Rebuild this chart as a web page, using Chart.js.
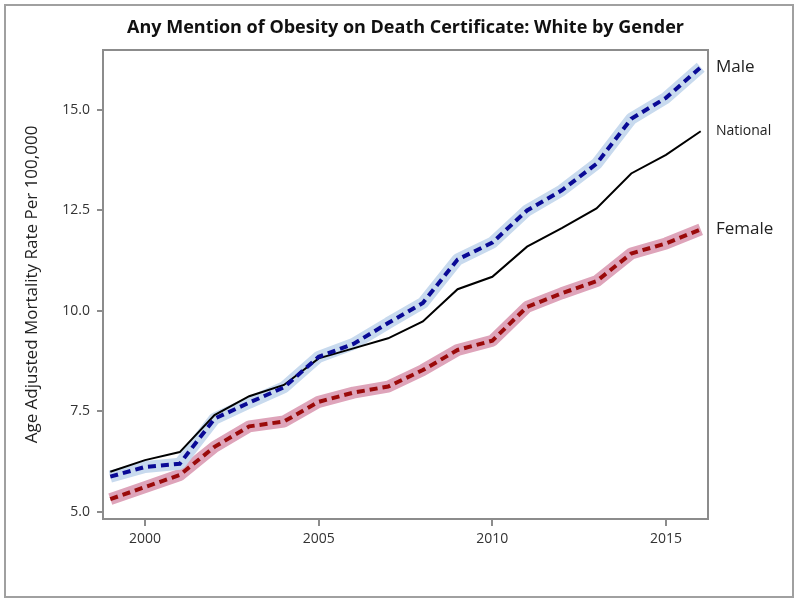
<!DOCTYPE html>
<html>
<head>
<meta charset="utf-8">
<script src="https://cdn.jsdelivr.net/npm/chart.js@4/dist/chart.umd.min.js"></script>
<style>
html,body{margin:0;padding:0;background:#fff;}
#wrap{width:800px;height:601px;}
</style>
</head>
<body>
<div id="wrap"><canvas id="c" width="800" height="601"></canvas></div>
<script>
const years = [1999,2000,2001,2002,2003,2004,2005,2006,2007,2008,2009,2010,2011,2012,2013,2014,2015,2016];
const maleRate = [5.88,6.12,6.20,7.32,7.72,8.10,8.86,9.18,9.70,10.20,11.28,11.70,12.50,13.00,13.66,14.78,15.30,16.06];
const nationalRate = [6.00,6.29,6.49,7.41,7.88,8.16,8.82,9.07,9.32,9.74,10.54,10.85,11.60,12.06,12.55,13.42,13.88,14.47];
const femaleRate = [5.32,5.62,5.92,6.62,7.13,7.25,7.74,7.97,8.12,8.53,9.03,9.26,10.10,10.44,10.74,11.43,11.68,12.03];
const xTicks = [2000,2005,2010,2015];
const yTicks = [5.0,7.5,10.0,12.5,15.0];
const titleText = 'Any Mention of Obesity on Death Certificate: White by Gender';
const yTitle = 'Age Adjusted Mortality Rate Per 100,000';
const seriesLabels = ['Male','National','Female'];

const pts = arr => arr.map((v,i)=>({x:years[i], y:v}));

const framePlugin = {
  id:'frame',
  afterDraw(chart){
    const {ctx, chartArea:a, scales} = chart;
    ctx.save();
    // plot frame
    ctx.strokeStyle = '#8c8c8c';
    ctx.lineWidth = 2;
    ctx.strokeRect(a.left, a.top, a.right - a.left, a.bottom - a.top);
    // outer frame
    ctx.strokeStyle = '#a0a0a0';
    ctx.lineWidth = 2;
    ctx.strokeRect(5, 5, 788, 592);
    // title
    ctx.fillStyle = '#111';
    ctx.font = 'bold 18px "Open Sans"';
    ctx.textAlign = 'center';
    ctx.textBaseline = 'middle';
    ctx.fillText(titleText, (a.left + a.right)/2, 28);
    // right-side labels at the last value of each series
    const ends = [
      {t:seriesLabels[0], v:maleRate[maleRate.length-1], f:'17px "Open Sans"'},
      {t:seriesLabels[1], v:nationalRate[nationalRate.length-1], f:'14px "Open Sans"'},
      {t:seriesLabels[2], v:femaleRate[femaleRate.length-1], f:'17px "Open Sans"'}
    ];
    ctx.textAlign = 'left';
    ctx.fillStyle = '#222';
    ends.forEach(e=>{
      ctx.font = e.f;
      ctx.fillText(e.t, a.right + 8, scales.y.getPixelForValue(e.v));
    });
    ctx.restore();
  }
};

new Chart(document.getElementById('c'), {
  type:'line',
  data:{
    datasets:[
      {label:'Male band', data:pts(maleRate), borderColor:'rgb(200,218,238)', borderWidth:12, pointRadius:0, order:3, borderCapStyle:'butt', borderJoinStyle:'bevel', tension:0},
      {label:'Female band', data:pts(femaleRate), borderColor:'rgb(222,164,186)', borderWidth:12, pointRadius:0, order:3, borderCapStyle:'butt', borderJoinStyle:'bevel', tension:0},
      {label:'National', data:pts(nationalRate), borderColor:'#000', borderWidth:2, pointRadius:0, order:2, tension:0},
      {label:'Male', data:pts(maleRate), borderColor:'#0a0a96', borderWidth:4, borderDash:[8,5], pointRadius:0, order:1, borderCapStyle:'butt', tension:0},
      {label:'Female', data:pts(femaleRate), borderColor:'#9a0a0a', borderWidth:4, borderDash:[8,5], pointRadius:0, order:1, borderCapStyle:'butt', tension:0}
    ]
  },
  options:{
    responsive:false,
    animation:false,
    events:[],
    layout:{padding:{top:50, left:0, right:92, bottom:52}},
    plugins:{legend:{display:false}, tooltip:{enabled:false}, title:{display:false}},
    scales:{
      x:{
        type:'linear',
        min:1998.79, max:2016.21,
        afterBuildTicks(s){ s.ticks = xTicks.map(v=>({value:v})); },
        afterFit(s){ s.height = 30; },
        ticks:{callback:v=>String(v), color:'#333', font:{family:'"Open Sans"', size:14}, padding:5, maxRotation:0},
        grid:{display:true, drawOnChartArea:false, tickLength:7, color:'#8c8c8c', lineWidth:2},
        border:{display:false}
      },
      y:{
        type:'linear',
        min:4.826, max:16.49,
        afterBuildTicks(s){ s.ticks = yTicks.map(v=>({value:v})); },
        afterFit(s){ s.width = 103; },
        ticks:{callback:v=>Number(v).toFixed(1), color:'#333', font:{family:'"Open Sans"', size:14}, padding:7},
        grid:{display:true, drawOnChartArea:false, tickLength:6, color:'#8c8c8c', lineWidth:2},
        border:{display:false},
        title:{display:true, text:yTitle, color:'#222', font:{family:'"Open Sans"', size:17}, padding:{top:22, bottom:0}}
      }
    }
  },
  plugins:[framePlugin]
});
</script>
</body>
</html>
